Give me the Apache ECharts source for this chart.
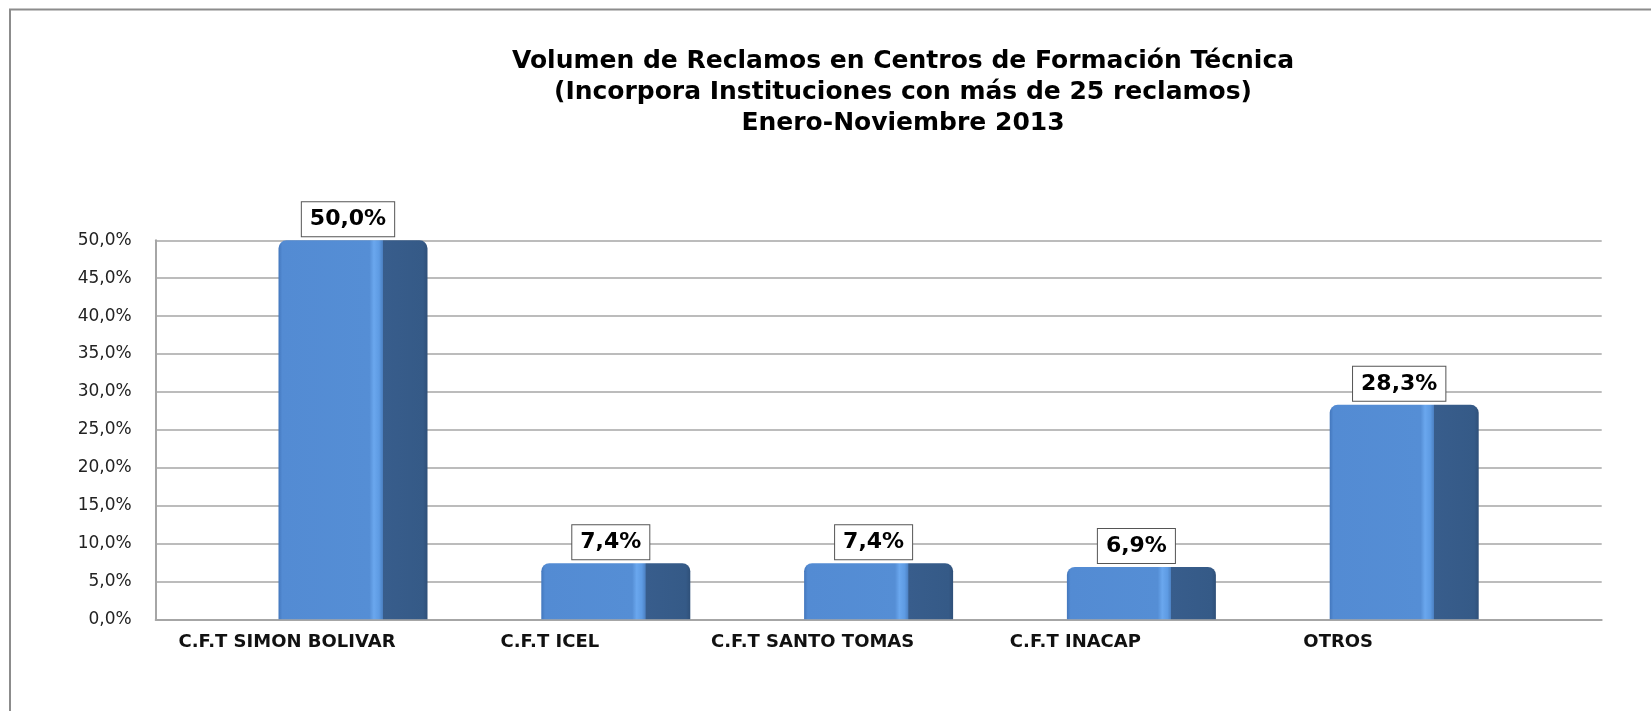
<!DOCTYPE html>
<html>
<head>
<meta charset="utf-8">
<script src="https://cdn.jsdelivr.net/npm/echarts@6/dist/echarts.min.js"></script>
<style>
html,body{margin:0;padding:0;background:#fff;}
#chart{width:1651px;height:711px;}
</style>
</head>
<body>
<div id="chart"></div>
<script>
const categories = ['C.F.T SIMON BOLIVAR', 'C.F.T ICEL', 'C.F.T SANTO TOMAS', 'C.F.T INACAP', 'OTROS'];
const values = [50.0, 7.4, 7.4, 6.9, 28.3];
const yTicks = { min: 0, max: 50, interval: 5 };
const titleLines = [
  'Volumen de Reclamos en Centros de Formación Técnica',
  '(Incorpora Instituciones con más de 25 reclamos)',
  'Enero-Noviembre 2013'
];

const fmt = v => v.toFixed(1).replace('.', ',') + '%';
const chart = echarts.init(document.getElementById('chart'), null, { renderer: 'canvas' });

const gridTop = 240.3, gridBottom = 711 - 619.3;

chart.setOption({
  backgroundColor: '#ffffff',
  animation: false,
  graphic: [{
    type: 'rect',
    shape: { x: 10, y: 9.5, width: 1700, height: 800 },
    style: { fill: null, stroke: '#8c8c8c', lineWidth: 2 },
    silent: true,
    z: -1
  }, {
    type: 'text',
    x: 903,
    y: 46,
    silent: true,
    style: {
      text: titleLines.join('\n'),
      align: 'center',
      verticalAlign: 'top',
      fontFamily: 'DejaVu Sans',
      fontWeight: 'bold',
      fontSize: 25,
      lineHeight: 31,
      fill: '#000'
    }
  }],
  grid: [
    { left: 155.7, right: 1651 - 1601.7, top: gridTop, bottom: gridBottom },
    { left: 221.6, right: 1651 - 1535.6, top: gridTop, bottom: gridBottom },
    { left: 155.6, right: 1651 - 1469.6, top: gridTop, bottom: gridBottom }
  ],
  xAxis: [
    {
      gridIndex: 0, type: 'category', data: categories,
      axisLine: { show: true, lineStyle: { color: '#a6a6a6', width: 2 } },
      axisTick: { show: false }, axisLabel: { show: false }, splitLine: { show: false }
    },
    {
      gridIndex: 1, type: 'category', data: categories, show: false
    },
    {
      gridIndex: 2, type: 'category', data: categories,
      axisLine: { show: false }, axisTick: { show: false }, splitLine: { show: false },
      axisLabel: {
        show: true, interval: 0, margin: 14,
        fontFamily: 'DejaVu Sans', fontWeight: 'bold', fontSize: 18, color: '#111'
      }
    }
  ],
  yAxis: [
    {
      gridIndex: 0, type: 'value', min: yTicks.min, max: yTicks.max, interval: yTicks.interval,
      axisLine: { show: true, lineStyle: { color: '#a6a6a6', width: 2 } },
      axisTick: { show: false },
      splitLine: { show: true, lineStyle: { color: '#bcbcbc', width: 2 } },
      axisLabel: {
        margin: 24, formatter: v => fmt(v),
        fontFamily: 'DejaVu Sans', fontSize: 17, color: '#222'
      }
    },
    {
      gridIndex: 1, type: 'value', min: yTicks.min, max: yTicks.max, interval: yTicks.interval, show: false
    },
    {
      gridIndex: 2, type: 'value', min: yTicks.min, max: yTicks.max, interval: yTicks.interval, show: false
    }
  ],
  series: [{
    type: 'bar',
    xAxisIndex: 1,
    yAxisIndex: 1,
    data: values,
    barWidth: 149,
    itemStyle: {
      borderRadius: [8, 8, 0, 0],
      color: new echarts.graphic.LinearGradient(0, 0, 1, 0, [
        { offset: 0, color: '#4377bd' },
        { offset: 0.025, color: '#538bd3' },
        { offset: 0.61, color: '#558ed5' },
        { offset: 0.64, color: '#6aa7ee' },
        { offset: 0.675, color: '#5e9be3' },
        { offset: 0.698, color: '#4d82c4' },
        { offset: 0.702, color: '#385d8c' },
        { offset: 0.97, color: '#355a87' },
        { offset: 1, color: '#2f5079' }
      ])
    },
    label: {
      show: true,
      position: 'top',
      distance: 4,
      offset: [-5, 0],
      formatter: p => fmt(p.value),
      fontFamily: 'DejaVu Sans',
      fontWeight: 'bold',
      fontSize: 22,
      lineHeight: 22,
      color: '#000',
      backgroundColor: '#ffffff',
      borderColor: '#555555',
      borderWidth: 1,
      padding: [6, 8, 6, 8]
    }
  }]
});
</script>
</body>
</html>
